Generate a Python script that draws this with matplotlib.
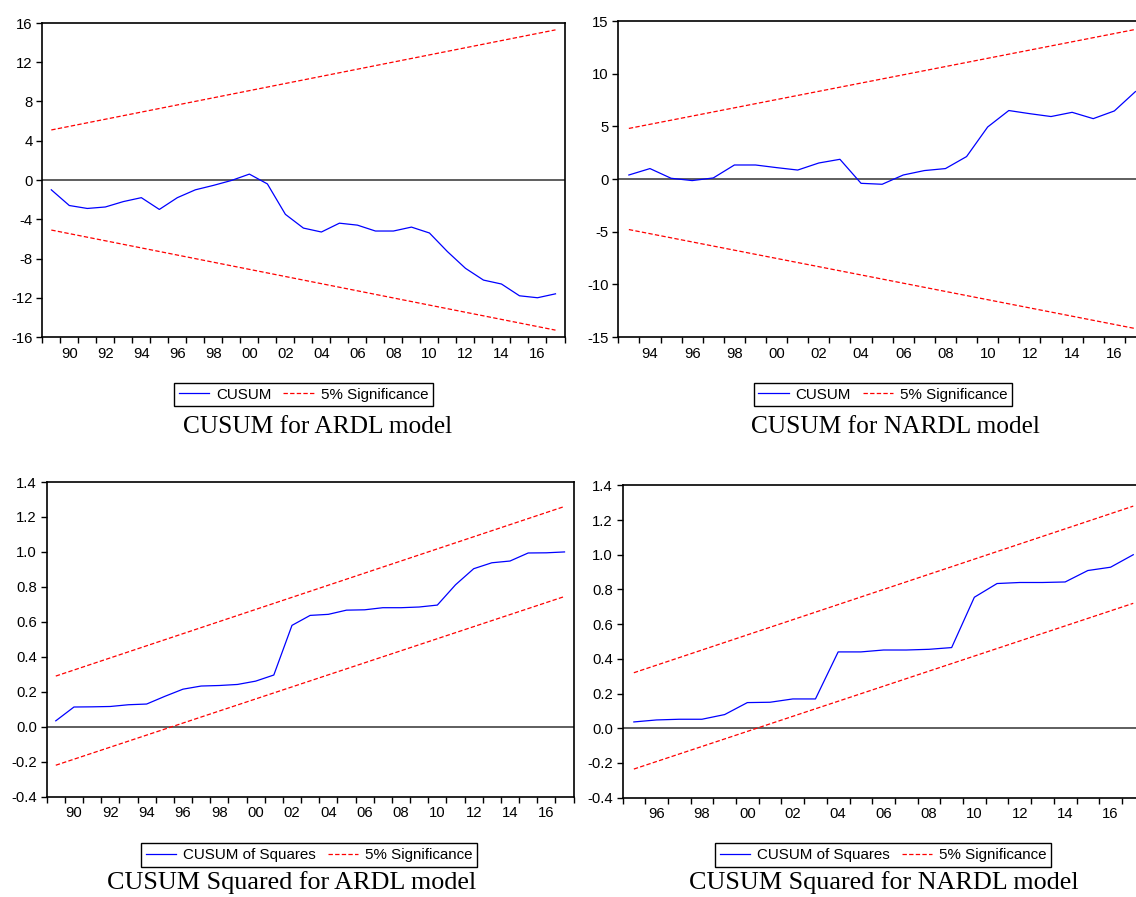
import matplotlib
matplotlib.use("Agg")
import matplotlib.pyplot as plt
from matplotlib.lines import Line2D
import numpy as np

plt.rcParams['font.family'] = ['Liberation Sans', 'DejaVu Sans']
plt.rcParams['axes.unicode_minus'] = False

# Data
years_ardl = list(range(1989, 2018))
years_nardl_cusum = list(range(1993, 2018))
years_nardl_sq = list(range(1995, 2018))

cusum_ardl = [-1.0, -2.6, -2.9, -2.75, -2.2, -1.8, -3.0, -1.8, -1.0, -0.55, -0.05, 0.6, -0.4,
              -3.5, -4.9, -5.3, -4.4, -4.6, -5.2, -5.2, -4.8, -5.4, -7.3, -9.0, -10.2, -10.6,
              -11.8, -12.0, -11.6]
cusum_ardl_upper = [5.1, 15.3]
cusum_ardl_lower = [-5.1, -15.3]

cusum_nardl = [0.38, 0.99, 0.07, -0.15, 0.1, 1.33, 1.33, 1.08, 0.85, 1.52, 1.87, -0.41, -0.5,
               0.38, 0.8, 0.99, 2.13, 4.94, 6.5, 6.2, 5.93, 6.33, 5.73, 6.46, 8.3]
cusum_nardl_upper = [4.8, 14.2]
cusum_nardl_lower = [-4.8, -14.2]

cusumsq_ardl = [0.034, 0.113, 0.114, 0.116, 0.126, 0.13, 0.174, 0.215, 0.233, 0.236, 0.242,
                0.261, 0.296, 0.58, 0.637, 0.643, 0.667, 0.669, 0.681, 0.681, 0.685, 0.696,
                0.812, 0.904, 0.938, 0.948, 0.994, 0.995, 1.0]
cusumsq_ardl_upper = [0.29, 1.26]
cusumsq_ardl_lower = [-0.22, 0.745]

cusumsq_nardl = [0.0365, 0.048, 0.052, 0.052, 0.079, 0.148, 0.15, 0.169, 0.169, 0.44, 0.44,
                 0.451, 0.451, 0.455, 0.465, 0.755, 0.834, 0.84, 0.84, 0.843, 0.909, 0.928, 1.0]
cusumsq_nardl_upper = [0.32, 1.28]
cusumsq_nardl_lower = [-0.235, 0.72]

yticks_cusum_ardl = [-16, -12, -8, -4, 0, 4, 8, 12, 16]
yticks_cusum_nardl = [-15, -10, -5, 0, 5, 10, 15]
yticks_sq = [-0.4, -0.2, 0.0, 0.2, 0.4, 0.6, 0.8, 1.0, 1.2, 1.4]

captions = ['CUSUM for ARDL model', 'CUSUM for NARDL model',
            'CUSUM Squared for ARDL model', 'CUSUM Squared for NARDL model']

W, H = 1136, 897
fig = plt.figure(figsize=(W / 100, H / 100), dpi=100)


def px_axes(left, top, right, bottom):
    return fig.add_axes([left / W, 1 - bottom / H, (right - left) / W, (bottom - top) / H])


def draw_panel(ax, years, values, upper, lower, yticks, fmt, series_name, leg_xy, cap_xy, caption, cap_size):
    ax.plot(years, values, color='#0000ff', lw=0.9)
    ends = [years[0], years[-1]]
    ax.plot(ends, upper, color='#ff0000', lw=0.9, dashes=(3.5, 1.8))
    ax.plot(ends, lower, color='#ff0000', lw=0.9, dashes=(3.5, 1.8))
    ax.axhline(0, color='#333333', lw=1.1, zorder=0)

    ax.set_xlim(years[0] - 0.5, years[-1] + 0.5)
    ax.set_ylim(yticks[0], yticks[-1])
    ax.set_yticks(yticks)
    ax.set_yticklabels([fmt.format(v) for v in yticks])
    even = [y for y in years if y % 2 == 0]
    ax.set_xticks(even)
    ax.set_xticklabels(['%02d' % (y % 100) for y in even])
    ax.set_xticks(np.arange(years[0] - 0.5, years[-1] + 1.0, 1.0), minor=True)
    ax.tick_params(axis='x', which='major', length=0, pad=7, labelsize=10.7)
    ax.tick_params(axis='x', which='minor', length=4.5, width=1, direction='out')
    ax.tick_params(axis='y', length=4, width=1, direction='out', pad=3, labelsize=10.7)
    for s in ax.spines.values():
        s.set_linewidth(1.2)
        s.set_color('black')

    handles = [Line2D([], [], color='#0000ff', lw=0.9),
               Line2D([], [], color='#ff0000', lw=0.9, dashes=(3.5, 1.8))]
    fig.legend(handles, [series_name, '5% Significance'], loc='center',
               bbox_to_anchor=(leg_xy[0] / W, 1 - leg_xy[1] / H), ncol=2,
               fontsize=10.9, frameon=True, fancybox=False, edgecolor='black',
               framealpha=1, handlelength=2.0, handletextpad=0.45, columnspacing=0.8,
               borderpad=0.3, borderaxespad=0)
    fig.text(cap_xy[0] / W, 1 - cap_xy[1] / H, caption, family='Liberation Serif',
             fontsize=cap_size, ha='center', va='baseline')


ax1 = px_axes(42.3, 23, 564.5, 337)
draw_panel(ax1, years_ardl, cusum_ardl, cusum_ardl_upper, cusum_ardl_lower,
           yticks_cusum_ardl, '{:d}', 'CUSUM', (303.5, 394.5), (318, 433), captions[0], 18.3)

ax2 = px_axes(618.3, 21, 1146, 337)
draw_panel(ax2, years_nardl_cusum, cusum_nardl, cusum_nardl_upper, cusum_nardl_lower,
           yticks_cusum_nardl, '{:d}', 'CUSUM', (883, 394.5), (895.6, 433), captions[1], 18.3)

ax3 = px_axes(46.7, 482, 573.6, 796.7)
draw_panel(ax3, years_ardl, cusumsq_ardl, cusumsq_ardl_upper, cusumsq_ardl_lower,
           yticks_sq, '{:.1f}', 'CUSUM of Squares', (309, 855), (292, 889), captions[2], 18.8)

ax4 = px_axes(622.5, 485.3, 1144.6, 797.7)
draw_panel(ax4, years_nardl_sq, cusumsq_nardl, cusumsq_nardl_upper, cusumsq_nardl_lower,
           yticks_sq, '{:.1f}', 'CUSUM of Squares', (883, 855), (884, 889), captions[3], 18.8)

fig.savefig('out.png', dpi=100, facecolor='white')
